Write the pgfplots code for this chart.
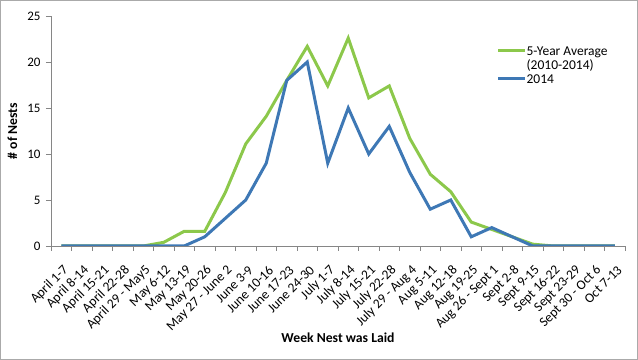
\documentclass[border=0pt]{standalone}
\usepackage{pgfplots}
\pgfplotsset{compat=1.18}
\usepackage{fontspec}
\setmainfont{Carlito}
\definecolor{avggreen}{RGB}{140,200,75}
\definecolor{yrblue}{RGB}{62,120,181}
\definecolor{axisgray}{RGB}{134,134,134}
\definecolor{framegray}{RGB}{170,170,170}
% fixed-size strut so the legend rows keep an even pitch
\newcommand\ls{\rule[-1.4pt]{0pt}{13.3pt}}

\begin{document}
\begin{tikzpicture}
\begin{axis}[
    name=ax,
    scale only axis,
    width=574pt, height=230pt,
    xmin=0.5, xmax=28.5,
    ymin=0, ymax=25,
    ytick={0,5,...,25},
    xtick={1,...,28},
    xticklabels={April 1-7, April 8-14, April 15-21, April 22-28, April 29 - May5,
      May 6-12, May 13-19, May 20-26, May 27 - June 2, June 3-9, June 10-16,
      June 17-23, June 24-30, July 1-7, July 8-14, July 15-21, July 22-28,
      July 29 - Aug 4, Aug 5-11, Aug 12-18, Aug 19-25, Aug 26 - Sept 1,
      Sept 2-8, Sept 9-15, Sept 16-22, Sept 23-29, Sept 30 - Oct 6, Oct 7-13},
    minor xtick={0.5,1.5,...,28.5},
    major x tick style={draw=none},
    tick style={axisgray, thin},
    tick align=outside,
    major tick length=5pt, minor tick length=5pt,
    axis x line*=bottom, axis y line*=left,
    axis line style={axisgray, -},
    /pgf/number format/assume math mode=true,
    yticklabel style={font=\fontsize{13}{16}\selectfont, xshift=-2pt},
    xticklabel style={font=\fontsize{13.5}{16}\selectfont, inner sep=0pt,
      xshift=5pt, yshift=-17pt, rotate=45, anchor=east},
    xlabel={\textbf{Week Nest was Laid}},
    ylabel={\textbf{\# of Nests}},
    label style={font=\fontsize{13.7}{16.5}\selectfont},
    xlabel style={at={(axis description cs:0.5,-0.4)}, anchor=center},
    ylabel style={at={(axis description cs:-0.067,0.5)}, anchor=center},
    legend image code/.code={\draw[#1] (0pt,0pt) -- (27pt,0pt);},
    legend style={draw=none, fill=none, at={(axis description cs:0.776,0.881)},
      anchor=north west, font=\fontsize{13.5}{16.2}\selectfont,
      inner sep=0pt, row sep=0.7pt, column sep=0pt,
      nodes={inner sep=0pt}},
    legend cell align=left,
]
\addlegendimage{avggreen, line width=3pt}
\addlegendimage{empty legend}
\addlegendimage{yrblue, line width=3pt}
\addplot[avggreen, line width=3pt, forget plot] coordinates {
  (1,0) (2,0) (3,0) (4,0) (5,0) (6,0.4) (7,1.6) (8,1.6) (9,5.8) (10,11.1)
  (11,14.1) (12,18) (13,21.7) (14,17.4) (15,22.6) (16,16.1) (17,17.4) (18,11.7)
  (19,7.8) (20,5.9) (21,2.6) (22,1.8) (23,1.0) (24,0.2) (25,0) (26,0) (27,0) (28,0)};
\addplot[yrblue, line width=3pt, forget plot] coordinates {
  (1,0) (2,0) (3,0) (4,0) (5,0) (6,0) (7,0) (8,1) (9,3) (10,5)
  (11,9) (12,18) (13,20) (14,9) (15,15) (16,10) (17,13) (18,8)
  (19,4) (20,5) (21,1) (22,2) (23,1) (24,0) (25,0) (26,0) (27,0) (28,0)};
\legend{\ls 5-Year Average, \ls(2010-2014), \ls 2014}
\end{axis}
\pgfresetboundingbox
\draw[framegray, line width=1pt] ([shift={(-50.5pt,-113.5pt)}]ax.south west)
  rectangle ([shift={(12.5pt,15.5pt)}]ax.north east);
\end{tikzpicture}
\end{document}
